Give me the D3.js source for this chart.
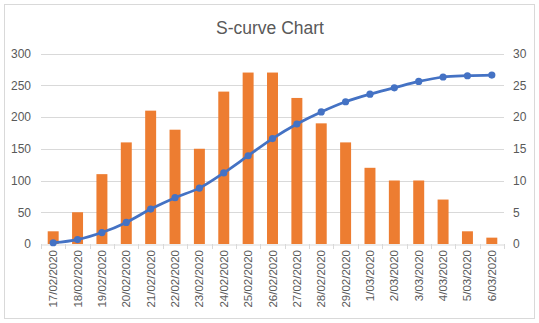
<!DOCTYPE html>
<html>
<head>
<meta charset="utf-8">
<script src="https://cdn.jsdelivr.net/npm/d3@7"></script>
<style>
  html, body { margin: 0; padding: 0; background: #fff; }
  svg { display: block; font-family: "Liberation Sans", Arial, sans-serif; }
</style>
</head>
<body>
<svg id="chart" width="539" height="323"></svg>
<script>
// Daily quantities (right axis) and the running total (left axis)
const dates = ["17/02/2020","18/02/2020","19/02/2020","20/02/2020","21/02/2020","22/02/2020",
  "23/02/2020","24/02/2020","25/02/2020","26/02/2020","27/02/2020","28/02/2020","29/02/2020",
  "1/03/2020","2/03/2020","3/03/2020","4/03/2020","5/03/2020","6/03/2020"];
const daily = [2, 5, 11, 16, 21, 18, 15, 24, 27, 27, 23, 19, 16, 12, 10, 10, 7, 2, 1];
const cumulative = [2, 7, 18, 34, 55, 73, 88, 112, 139, 166, 189, 208, 224, 236, 246, 256, 263, 265, 266];
const leftTicks = [0, 50, 100, 150, 200, 250, 300];
const rightTicks = [0, 5, 10, 15, 20, 25, 30];

const svg = d3.select("#chart");
const W = 539, H = 323;
const m = { left: 41, right: 504, top: 53.5, bottom: 244 };
const textColor = "#595959";

// chart frame
svg.append("rect")
  .attr("x", 4.5).attr("y", 4.5).attr("width", W - 9).attr("height", H - 9)
  .attr("fill", "#fff").attr("stroke", "#D9D9D9").attr("stroke-width", 1);

svg.append("text")
  .attr("x", 270).attr("y", 34)
  .attr("text-anchor", "middle")
  .attr("font-size", 17.5)
  .attr("fill", textColor)
  .text("S-curve Chart");

const x = d3.scaleBand().domain(dates).range([m.left, m.right]).paddingInner(0.55).paddingOuter(0.275);
const xBand = d3.scaleBand().domain(dates).range([m.left, m.right]);
const yL = d3.scaleLinear().domain([0, 300]).range([m.bottom, m.top]);
const yR = d3.scaleLinear().domain([0, 30]).range([m.bottom, m.top]);

// gridlines
svg.append("g").selectAll("line").data(leftTicks.slice(1)).join("line")
  .attr("x1", m.left).attr("x2", m.right)
  .attr("y1", d => Math.round(yL(d)) + 0.5).attr("y2", d => Math.round(yL(d)) + 0.5)
  .attr("stroke", "#D9D9D9").attr("stroke-width", 1);

// left axis
const axL = svg.append("g").attr("transform", `translate(${m.left - 10},0)`)
  .call(d3.axisLeft(yL).tickValues(leftTicks).tickSize(0).tickPadding(0));
axL.select(".domain").remove();
axL.selectAll("text").attr("fill", textColor).attr("font-size", 12).attr("font-family", null);

// right axis
const axR = svg.append("g").attr("transform", `translate(${m.right + 9},0)`)
  .call(d3.axisRight(yR).tickValues(rightTicks).tickSize(0).tickPadding(0));
axR.select(".domain").remove();
axR.selectAll("text").attr("fill", textColor).attr("font-size", 12).attr("font-family", null);

// bars on the secondary axis
svg.append("g").selectAll("rect").data(daily).join("rect")
  .attr("x", (d, i) => x(dates[i]))
  .attr("width", x.bandwidth())
  .attr("y", d => yR(d))
  .attr("height", d => yR(0) - yR(d))
  .attr("fill", "#ED7D31");

// category axis
const axB = svg.append("g").attr("transform", `translate(0,${Math.round(m.bottom) + 0.5})`)
  .call(d3.axisBottom(xBand).tickSize(0).tickFormat(""));
axB.select(".domain").attr("stroke", "#D9D9D9");
svg.append("g").selectAll("line").data(d3.range(dates.length + 1)).join("line")
  .attr("x1", i => Math.round(m.left + i * xBand.bandwidth()) + 0.5)
  .attr("x2", i => Math.round(m.left + i * xBand.bandwidth()) + 0.5)
  .attr("y1", m.bottom).attr("y2", m.bottom + 5)
  .attr("stroke", "#D9D9D9");
svg.append("g").selectAll("text").data(dates).join("text")
  .attr("transform", d => `translate(${xBand(d) + xBand.bandwidth() / 2},${m.bottom + 6}) rotate(-90)`)
  .attr("text-anchor", "end")
  .attr("dy", "0.35em")
  .attr("font-size", 11.5)
  .attr("fill", textColor)
  .text(d => d);

// cumulative S-curve
const line = d3.line()
  .x((d, i) => xBand(dates[i]) + xBand.bandwidth() / 2)
  .y(d => yL(d))
  .curve(d3.curveCatmullRom.alpha(0.5));
svg.append("path").datum(cumulative)
  .attr("d", line)
  .attr("fill", "none")
  .attr("stroke", "#4472C4")
  .attr("stroke-width", 2.75)
  .attr("stroke-linecap", "round");
svg.append("g").selectAll("circle").data(cumulative).join("circle")
  .attr("cx", (d, i) => xBand(dates[i]) + xBand.bandwidth() / 2)
  .attr("cy", d => yL(d))
  .attr("r", 3.6)
  .attr("fill", "#4472C4");
</script>
</body>
</html>
